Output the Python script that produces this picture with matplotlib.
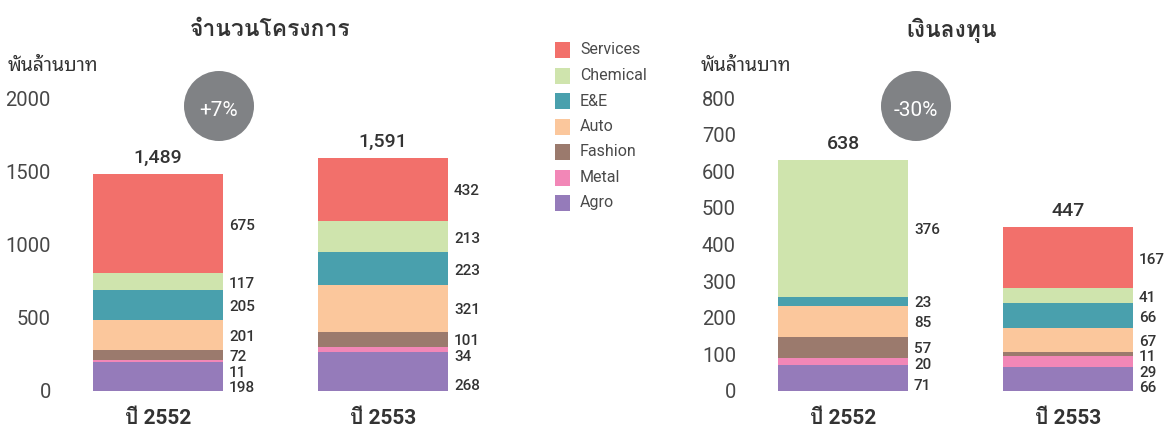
import matplotlib
matplotlib.use("Agg")
import matplotlib.pyplot as plt
from matplotlib import font_manager
from matplotlib.patches import Circle, Rectangle

# ---------------- data ----------------
categories = ["Agro", "Metal", "Fashion", "Auto", "E&E", "Chemical", "Services"]
years = ["ปี 2552", "ปี 2553"]

projects_2552 = [198, 11, 72, 201, 205, 117, 675]
projects_2553 = [268, 34, 101, 321, 223, 213, 432]
projects_totals = ["1,489", "1,591"]
projects_change = "+7%"

invest_2552 = [71, 20, 57, 85, 23, 376, 0]
invest_2553 = [66, 29, 11, 67, 66, 41, 167]
invest_totals = ["638", "447"]
invest_change = "-30%"

titles = ["จำนวนโครงการ", "เงินลงทุน"]
unit_label = "พันล้านบาท"
left_ticks = [0, 500, 1000, 1500, 2000]
right_ticks = [0, 100, 200, 300, 400, 500, 600, 700, 800]

colors = {
    "Services": "#F2706B",
    "Chemical": "#CFE4AD",
    "E&E": "#49A0AD",
    "Auto": "#FBC79C",
    "Fashion": "#9B7A6D",
    "Metal": "#F287B7",
    "Agro": "#957BBA",
}

# ---------------- fonts ----------------
available = {f.name for f in font_manager.fontManager.ttflist}
thai = next((n for n in ["Loma", "Anuphan", "Sarabun", "Noto Sans Thai"] if n in available),
            "DejaVu Sans")
thai_light = next((n for n in ["Noto Sans Thai Looped", "Loma"] if n in available), thai)
num_font = "Roboto"
plt.rcParams["font.family"] = [num_font, thai, "DejaVu Sans"]

DARK = "#333333"
TICK = "#474747"
W, H = 1166, 429
fig = plt.figure(figsize=(W / 100, H / 100), dpi=100)


def px_axes(x0, x1, ytop, ybot):
    return fig.add_axes([x0 / W, 1 - ybot / H, (x1 - x0) / W, (ybot - ytop) / H])


def draw_panel(ax, vals_a, vals_b, totals, ymax, ticks, bar_px_centers, axes_x0, axes_x1):
    spacing = bar_px_centers[1] - bar_px_centers[0]
    width = 130 / spacing
    ax.set_xlim((axes_x0 - bar_px_centers[0]) / spacing, (axes_x1 - bar_px_centers[0]) / spacing)
    ax.set_ylim(0, ymax)
    for s in ax.spines.values():
        s.set_visible(False)
    ax.set_xticks([])
    ax.set_yticks(ticks)
    ax.set_yticklabels([str(t) for t in ticks], fontsize=14.5, color=TICK,
                       family=[num_font, "DejaVu Sans"], fontweight="normal")
    ax.tick_params(axis="y", length=0, pad=6.5)
    ppu = 293 / ymax  # pixels per unit
    for i, vals in enumerate([vals_a, vals_b]):
        bottom = 0
        centers = []
        for cat, v in zip(categories, vals):
            ax.bar(i, v, width=width, bottom=bottom, color=colors[cat], linewidth=0)
            centers.append(bottom + v / 2)
            bottom += v
        # label positions in px above the baseline; nudge down, avoid overlap
        labs = [(c * ppu - 2, v) for c, v in zip(centers, vals) if v > 0]
        pos = [p for p, _ in labs]
        pos[0] = 5.0  # bottom label sits on the baseline
        gap = 15.5
        for k in range(len(pos) - 2, 0, -1):
            if pos[k + 1] - pos[k] < gap:
                pos[k] = pos[k + 1] - gap
        if pos[1] - pos[0] < gap:
            pos[0] = pos[1] - gap
        for p, (_, v) in zip(pos, labs):
            ax.text(i + width / 2 + 6 / spacing, p / ppu, str(v), fontsize=11, color=DARK,
                    va="center", ha="left", fontweight="medium", family=[num_font, "DejaVu Sans"],
                    clip_on=False)
        ax.text(i, bottom + 7 / ppu, totals[i], ha="center", va="bottom", fontsize=14,
                color=DARK, fontweight="medium", family=[num_font, "DejaVu Sans"])
        ax.text(i, -27 / ppu, years[i], ha="center", va="center", fontsize=15,
                color=DARK, fontweight="bold", family=[num_font, thai])


ax1 = px_axes(60, 480, 98, 391)
draw_panel(ax1, projects_2552, projects_2553, projects_totals, 2000, left_ticks, [158, 383], 60, 480)
ax2 = px_axes(745, 1160, 98, 391)
draw_panel(ax2, invest_2552, invest_2553, invest_totals, 800, right_ticks, [843, 1068], 745, 1160)

# titles and unit labels
fig.text(270 / W, 1 - 30 / H, titles[0], ha="center", va="center", fontsize=16.5,
         fontweight="bold", color=DARK, family=[thai, "DejaVu Sans"])
fig.text(952 / W, 1 - 30 / H, titles[1], ha="center", va="center", fontsize=16.5,
         fontweight="bold", color=DARK, family=[thai, "DejaVu Sans"])
fig.text(8 / W, 1 - 66 / H, unit_label, ha="left", va="center", fontsize=14,
         color=DARK, family=[thai_light, "DejaVu Sans"])
fig.text(701 / W, 1 - 66 / H, unit_label, ha="left", va="center", fontsize=14,
         color=DARK, family=[thai_light, "DejaVu Sans"])

# change bubbles
overlay = fig.add_axes([0, 0, 1, 1])
overlay.set_xlim(0, W)
overlay.set_ylim(H, 0)
overlay.axis("off")
for cx, txt in [(219, projects_change), (916, invest_change)]:
    overlay.add_patch(Circle((cx, 106), 35, color="#808285", lw=0))
    overlay.text(cx, 110, txt, ha="center", va="center", fontsize=15, color="white",
                 fontweight="normal", family=[num_font, "DejaVu Sans"])

# legend
legend_order = ["Services", "Chemical", "E&E", "Auto", "Fashion", "Metal", "Agro"]
for k, cat in enumerate(legend_order):
    yc = 50 + k * 25.5
    overlay.add_patch(Rectangle((555, yc - 8), 15, 16, color=colors[cat], lw=0))
    overlay.text(580, yc, cat, ha="left", va="center", fontsize=11.5, color="#4a4a4a",
                 fontweight="normal", family=[num_font, "DejaVu Sans"])

fig.savefig("out.png", dpi=100)
